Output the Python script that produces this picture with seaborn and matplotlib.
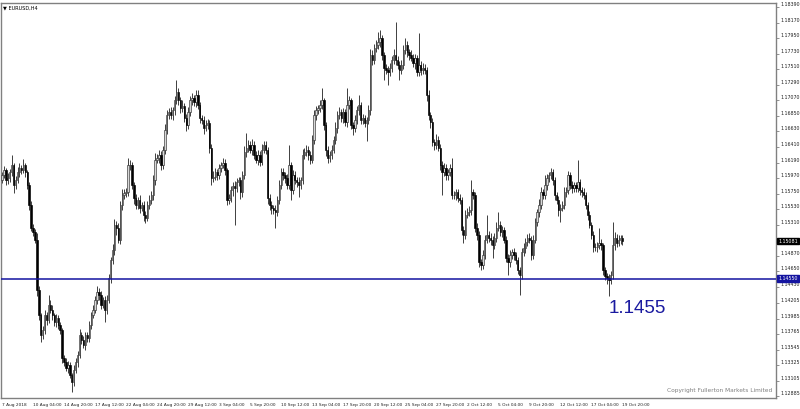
import numpy as np
import matplotlib
matplotlib.use("Agg")
import matplotlib.pyplot as plt
import matplotlib.transforms as mtransforms
import seaborn as sns

sns.set_style("white")
plt.rcParams['font.family'] = ['DejaVu Sans']

# EURUSD H4 closes, 7 Aug 2018 12:00 .. 19 Oct 2018 20:00
first_open = 1.1595
closes = [
    1.1601, 1.1608, 1.1594, 1.1597, 1.1605, 1.1615, 1.1587, 1.1594, 1.1605, 1.1611, 1.1608, 1.1615, 1.1605, 1.1587, 1.1559, 1.1526,
    1.1521, 1.1510, 1.1439, 1.1403, 1.1375, 1.1382, 1.1403, 1.1396, 1.1418, 1.1411, 1.1403, 1.1393, 1.1399, 1.1389, 1.1382, 1.1343,
    1.1337, 1.1329, 1.1333, 1.1319, 1.1309, 1.1326, 1.1337, 1.1347, 1.1375, 1.1368, 1.1361, 1.1375, 1.1371, 1.1389, 1.1403, 1.1411,
    1.1425, 1.1436, 1.1432, 1.1418, 1.1425, 1.1411, 1.1425, 1.1456, 1.1481, 1.1495, 1.1531, 1.1526, 1.1510, 1.1559, 1.1573, 1.1576,
    1.1577, 1.1615, 1.1615, 1.1587, 1.1569, 1.1559, 1.1566, 1.1555, 1.1559, 1.1545, 1.1541, 1.1559, 1.1566, 1.1573, 1.1594, 1.1623,
    1.1625, 1.1630, 1.1615, 1.1637, 1.1665, 1.1686, 1.1690, 1.1686, 1.1693, 1.1707, 1.1719, 1.1707, 1.1696, 1.1699, 1.1682, 1.1672,
    1.1690, 1.1707, 1.1710, 1.1704, 1.1715, 1.1700, 1.1682, 1.1679, 1.1668, 1.1672, 1.1675, 1.1640, 1.1597, 1.1599, 1.1605, 1.1601,
    1.1611, 1.1615, 1.1618, 1.1608, 1.1566, 1.1569, 1.1580, 1.1586, 1.1583, 1.1591, 1.1594, 1.1577, 1.1601, 1.1634, 1.1640, 1.1644,
    1.1637, 1.1644, 1.1630, 1.1623, 1.1630, 1.1620, 1.1637, 1.1644, 1.1637, 1.1569, 1.1559, 1.1555, 1.1552, 1.1549, 1.1566, 1.1587,
    1.1605, 1.1601, 1.1597, 1.1587, 1.1615, 1.1580, 1.1601, 1.1594, 1.1591, 1.1587, 1.1594, 1.1630, 1.1634, 1.1637, 1.1630, 1.1623,
    1.1651, 1.1686, 1.1693, 1.1696, 1.1700, 1.1707, 1.1672, 1.1637, 1.1625, 1.1630, 1.1637, 1.1651, 1.1668, 1.1686, 1.1690, 1.1682,
    1.1690, 1.1676, 1.1700, 1.1707, 1.1672, 1.1668, 1.1679, 1.1693, 1.1700, 1.1679, 1.1682, 1.1675, 1.1679, 1.1693, 1.1771, 1.1764,
    1.1781, 1.1785, 1.1789, 1.1795, 1.1771, 1.1753, 1.1750, 1.1747, 1.1753, 1.1764, 1.1771, 1.1764, 1.1757, 1.1750, 1.1757, 1.1778,
    1.1785, 1.1775, 1.1771, 1.1767, 1.1760, 1.1767, 1.1747, 1.1757, 1.1750, 1.1753, 1.1750, 1.1715, 1.1686, 1.1676, 1.1648, 1.1644,
    1.1651, 1.1640, 1.1616, 1.1605, 1.1611, 1.1601, 1.1605, 1.1611, 1.1573, 1.1573, 1.1577, 1.1569, 1.1566, 1.1524, 1.1517, 1.1545,
    1.1549, 1.1552, 1.1577, 1.1573, 1.1527, 1.1517, 1.1478, 1.1474, 1.1488, 1.1510, 1.1517, 1.1513, 1.1510, 1.1502, 1.1513, 1.1527,
    1.1531, 1.1521, 1.1524, 1.1510, 1.1484, 1.1478, 1.1488, 1.1492, 1.1488, 1.1481, 1.1467, 1.1460, 1.1492, 1.1498, 1.1507, 1.1513,
    1.1510, 1.1488, 1.1510, 1.1535, 1.1549, 1.1559, 1.1577, 1.1573, 1.1587, 1.1597, 1.1601, 1.1605, 1.1594, 1.1573, 1.1566, 1.1552,
    1.1555, 1.1559, 1.1577, 1.1580, 1.1601, 1.1587, 1.1583, 1.1587, 1.1583, 1.1591, 1.1580, 1.1577, 1.1573, 1.1559, 1.1545, 1.1531,
    1.1517, 1.1500, 1.1499, 1.1502, 1.1506, 1.1502, 1.1467, 1.1459, 1.1456, 1.1453, 1.1460, 1.1502, 1.1513, 1.1506, 1.1510, 1.1512,
    1.1508,
]
# wick lengths above / below the body, in pips
upper_wick = [
    5, 6, 4, 7, 5, 15, 3, 6, 8, 7, 5, 9, 4, 3, 4, 5,
    6, 4, 10, 5, 4, 6, 8, 5, 14, 6, 7, 4, 6, 5, 4, 3,
    4, 5, 6, 4, 3, 7, 5, 6, 8, 4, 6, 5, 4, 6, 5, 7,
    6, 8, 5, 6, 4, 5, 7, 6, 5, 9, 8, 6, 7, 6, 8, 5,
    6, 10, 8, 5, 4, 6, 5, 7, 4, 5, 6, 5, 7, 6, 8, 9,
    6, 7, 5, 6, 9, 7, 6, 8, 5, 6, 17, 6, 5, 8, 4, 6,
    7, 6, 8, 5, 7, 6, 4, 5, 6, 7, 5, 4, 6, 8, 7, 5,
    6, 5, 8, 6, 4, 5, 6, 5, 7, 6, 5, 4, 6, 8, 21, 7,
    6, 8, 5, 6, 7, 5, 9, 6, 5, 4, 6, 5, 4, 7, 6, 8,
    7, 6, 5, 6, 29, 5, 8, 6, 5, 7, 4, 8, 6, 7, 5, 6,
    7, 8, 6, 5, 7, 17, 4, 5, 6, 6, 7, 5, 8, 6, 7, 5,
    6, 5, 24, 6, 4, 5, 7, 6, 14, 5, 6, 4, 5, 8, 9, 7,
    6, 7, 15, 11, 5, 4, 6, 5, 7, 6, 8, 47, 6, 5, 7, 8,
    10, 6, 5, 7, 6, 5, 4, 45, 6, 7, 5, 4, 6, 5, 6, 4,
    8, 5, 6, 5, 7, 6, 5, 6, 15, 6, 5, 4, 5, 4, 5, 7,
    6, 5, 17, 5, 4, 6, 5, 4, 8, 6, 28, 5, 6, 5, 7, 8,
    18, 5, 6, 4, 5, 6, 7, 5, 6, 4, 5, 4, 6, 7, 6, 5,
    6, 5, 7, 6, 5, 8, 7, 5, 14, 6, 5, 6, 5, 4, 5, 6,
    5, 6, 7, 5, 6, 5, 6, 4, 5, 32, 5, 4, 6, 5, 4, 5,
    4, 5, 6, 5, 21, 5, 4, 5, 4, 5, 6, 33, 8, 5, 6, 4,
    4,
]
lower_wick = [
    5, 4, 7, 5, 6, 5, 11, 5, 4, 6, 5, 4, 6, 5, 7, 4,
    6, 5, 8, 7, 9, 5, 6, 7, 4, 5, 6, 5, 7, 6, 5, 8,
    6, 5, 7, 5, 14, 6, 5, 7, 5, 6, 4, 7, 5, 6, 5, 4,
    5, 6, 7, 6, 5, 18, 6, 5, 7, 5, 6, 10, 5, 6, 7, 5,
    6, 5, 7, 6, 8, 5, 6, 7, 5, 8, 7, 5, 6, 5, 7, 6,
    5, 6, 7, 5, 6, 5, 6, 5, 7, 6, 5, 6, 7, 6, 5, 8,
    6, 5, 7, 5, 6, 5, 7, 6, 8, 5, 6, 7, 9, 6, 5, 7,
    5, 6, 4, 6, 7, 5, 6, 8, 52, 6, 5, 9, 6, 5, 7, 6,
    5, 7, 6, 5, 8, 6, 5, 4, 6, 8, 7, 9, 6, 22, 5, 6,
    5, 6, 7, 5, 6, 14, 6, 5, 7, 17, 6, 5, 6, 5, 7, 6,
    5, 6, 7, 5, 6, 5, 7, 8, 6, 5, 6, 5, 6, 7, 5, 6,
    7, 5, 6, 5, 6, 10, 6, 5, 7, 6, 5, 6, 25, 5, 6, 7,
    5, 6, 5, 6, 7, 17, 6, 18, 5, 6, 5, 7, 6, 14, 5, 6,
    5, 6, 7, 5, 6, 8, 5, 6, 7, 5, 6, 9, 7, 8, 6, 7,
    6, 5, 7, 32, 5, 6, 7, 5, 6, 5, 7, 6, 5, 8, 12, 6,
    5, 6, 7, 5, 6, 8, 7, 7, 5, 6, 5, 6, 7, 18, 5, 6,
    5, 6, 7, 5, 6, 18, 6, 5, 7, 6, 5, 28, 6, 5, 7, 6,
    5, 7, 6, 5, 6, 7, 5, 6, 5, 7, 6, 5, 6, 7, 5, 8,
    17, 5, 6, 7, 5, 6, 7, 5, 6, 5, 7, 6, 5, 6, 7, 5,
    6, 7, 5, 6, 5, 6, 7, 6, 8, 23, 6, 5, 7, 6, 5, 6,
    5,
]

time_labels = ["7 Aug 2018", "10 Aug 04:00", "14 Aug 20:00", "17 Aug 12:00", "22 Aug 04:00",
               "24 Aug 20:00", "29 Aug 12:00", "3 Sep 04:00", "5 Sep 20:00", "10 Sep 12:00",
               "13 Sep 04:00", "17 Sep 20:00", "20 Sep 12:00", "25 Sep 04:00", "27 Sep 20:00",
               "2 Oct 12:00", "5 Oct 04:00", "9 Oct 20:00", "12 Oct 12:00", "17 Oct 04:00",
               "19 Oct 20:00"]
price_ticks = [1.18390, 1.18170, 1.17950, 1.17730, 1.17510, 1.17290, 1.17070, 1.16850,
               1.16630, 1.16410, 1.16190, 1.15970, 1.15750, 1.15530, 1.15310, 1.14870,
               1.14650, 1.14430, 1.14205, 1.13985, 1.13765, 1.13545, 1.13325, 1.13105,
               1.12885]
support_level = 1.1455
last_price = 1.15081

closes = np.array(closes)
opens = np.concatenate([[first_open], closes[:-1]])
highs = np.maximum(opens, closes) + np.array(upper_wick) / 10000
lows = np.minimum(opens, closes) - np.array(lower_wick) / 10000
idx = np.arange(len(closes))

fig = plt.figure(figsize=(8, 4.09), dpi=100)
ax = fig.add_axes([0.5 / 800, 11 / 409, 775.5 / 800, 395 / 409])

ax.vlines(idx, lows, highs, color="#202020", lw=0.6, zorder=2)
bull = closes >= opens
body = np.where(np.abs(closes - opens) < 0.00008, 0.00008, closes - opens)
ax.bar(idx[bull], body[bull], bottom=opens[bull], width=0.7,
       color="#d8d8d8", edgecolor="#303030", lw=0.45, zorder=3)
ax.bar(idx[~bull], body[~bull], bottom=opens[~bull], width=0.7,
       color="black", edgecolor="black", lw=0.45, zorder=3)

ax.axhline(support_level, color="#1414a0", lw=1.1, zorder=4)

ax.set_xlim(-0.77, 399.2)
ax.set_ylim(1.12861, 1.18447)

for s in ax.spines.values():
    s.set_color("#808080")
    s.set_linewidth(1.0)

ax.yaxis.tick_right()
ax.set_yticks(price_ticks)
ax.set_yticklabels([f"{p:.5f}" for p in price_ticks])
ax.tick_params(axis="y", length=2, width=0.6, pad=1.2, labelsize=3.4,
               color="#808080", labelcolor="#202020")
for lbl in ax.get_yticklabels():
    lbl.set_va("bottom")

ax.set_xticks(idx[::16])
ax.set_xticklabels(time_labels, ha="left")
ax.tick_params(axis="x", length=2, width=0.6, pad=1.5, labelsize=3.1,
               color="#808080", labelcolor="#202020")

trans = mtransforms.blended_transform_factory(ax.transAxes, ax.transData)
ax.text(1.003, last_price, "1.15081", transform=trans, fontsize=3.4, color="white",
        va="center", ha="left", bbox=dict(boxstyle="square,pad=0.2", fc="black", ec="black"))
ax.text(1.003, support_level, "1.14550", transform=trans, fontsize=3.4, color="white",
        va="center", ha="left", bbox=dict(boxstyle="square,pad=0.2", fc="#1414a0", ec="#1414a0"))

ax.text(313, 1.1406, "1.1455", fontsize=13.5, color="#1a1aa0",
        family=["Liberation Sans"], va="baseline", ha="left")

ax.text(0.995, 0.012, "Copyright Fullerton Markets Limited", transform=ax.transAxes,
        fontsize=4.2, color="#808080", ha="right", va="bottom")
ax.text(0.003, 0.995, "\u25bc EURUSD,H4", transform=ax.transAxes,
        fontsize=3.6, color="black", ha="left", va="top")

fig.savefig("out.png", dpi=100)
